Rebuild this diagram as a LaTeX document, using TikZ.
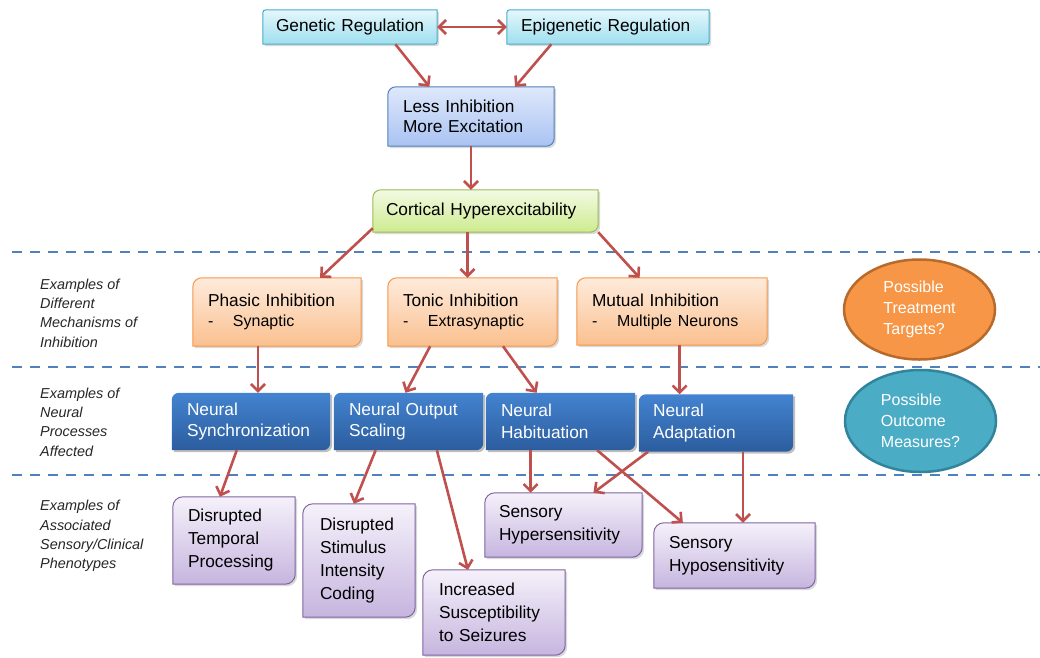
\documentclass[tikz,border=0pt]{standalone}
\usepackage{fontspec}
\setmainfont{Liberation Sans}
\usetikzlibrary{arrows.meta,calc,shapes.geometric}
\pgfdeclarelayer{bg}
\pgfsetlayers{bg,main}
\definecolor{arrowred}{HTML}{C0504D}
\definecolor{dashblue}{HTML}{4F81BD}
\definecolor{cyanT}{HTML}{E4F7FC}\definecolor{cyanB}{HTML}{9FDFEF}\definecolor{cyanD}{HTML}{4BACC6}
\definecolor{lessT}{HTML}{DFE8FB}\definecolor{lessB}{HTML}{A9C3F2}\definecolor{lessD}{HTML}{4F81BD}
\definecolor{grnT}{HTML}{F3FAE4}\definecolor{grnB}{HTML}{CDEB8E}\definecolor{grnD}{HTML}{9BBB59}
\definecolor{orT}{HTML}{FEEBDC}\definecolor{orB}{HTML}{FAC08F}\definecolor{orD}{HTML}{F79646}
\definecolor{neuT}{HTML}{4383D0}\definecolor{neuB}{HTML}{2C5D9E}
\definecolor{puT}{HTML}{F5F1FA}\definecolor{puB}{HTML}{C6B5DF}\definecolor{puD}{HTML}{8064A2}
\definecolor{treatF}{HTML}{F79646}\definecolor{treatD}{HTML}{B66A2C}
\definecolor{outF}{HTML}{4BACC6}\definecolor{outD}{HTML}{31849B}
\definecolor{labgray}{HTML}{262626}

\hyphenpenalty=10000
\exhyphenpenalty=10000

% background shape with rounded top-left and bottom-right corners
\newcommand\shbox[4]{%
 \begin{pgfonlayer}{bg}
 \fill[black,opacity=#4] ([shift={(2pt,-2pt-#2)}]#1.north west) arc[start angle=180,end angle=90,radius=#2]
   -- ([shift={(2pt,-2pt)}]#1.north east) -- ([shift={(2pt,-2pt+#2)}]#1.south east)
   arc[start angle=0,end angle=-90,radius=#2] -- ([shift={(2pt,-2pt)}]#1.south west) -- cycle;
 \path[#3] ([yshift=-#2]#1.north west) arc[start angle=180,end angle=90,radius=#2]
   -- (#1.north east) -- ([yshift=#2]#1.south east)
   arc[start angle=0,end angle=-90,radius=#2] -- (#1.south west) -- cycle;
 \end{pgfonlayer}}

\tikzset{
  x=1pt, y=-1pt,
  bx/.style={inner ysep=0pt, inner xsep=15pt, align=left, text=black,
     font=\fontsize{17.3}{22}\selectfont},
  cyanfill/.style={top color=cyanT, bottom color=cyanB, draw=cyanD, line width=1pt},
  lessfill/.style={top color=lessT, bottom color=lessB, draw=lessD, line width=1pt},
  grnfill/.style={top color=grnT, bottom color=grnB, draw=grnD, line width=1pt},
  orfill/.style={top color=orT, bottom color=orB, draw=orD, line width=1pt},
  neufill/.style={top color=neuT, bottom color=neuB},
  pufill/.style={top color=puT, bottom color=puB, draw=puD, line width=1pt},
  arr/.style={draw=arrowred, line width=2.6pt, -{Straight Barb[length=7pt,width=14pt]}},
  dbl/.style={draw=arrowred, line width=2.6pt, {Straight Barb[length=7pt,width=14pt]}-{Straight Barb[length=7pt,width=14pt]}},
  dashline/.style={draw=dashblue, line width=2.2pt, dash pattern=on 10pt off 8pt},
  lab/.style={anchor=west, align=left, inner sep=0pt, text=labgray,
     font=\fontsize{14.4}{19.3}\selectfont\itshape},
  ell/.style={ellipse, line width=2.5pt, minimum width=151pt, minimum height=100pt,
     align=left, text=white, inner sep=0pt, font=\fontsize{16}{21}\selectfont},
}

\newcommand\sub[1]{\\[-2pt]{\fontsize{16}{20}\selectfont\makebox[25pt][l]{-}#1}}

\begin{document}
\begin{tikzpicture}
\useasboundingbox (0,0) rectangle (1040,657);

% dashed separators
\draw[dashline] (12,252) -- (1040,252);
\draw[dashline] (12,367) -- (1040,367);
\draw[dashline] (12,475) -- (1040,475);

% row labels
\node[lab] (l1) at (40,313) {Examples of\\Different\\Mechanisms of\\Inhibition};
\node[lab] (l2) at (40,422) {Examples of\\Neural\\Processes\\Affected};
\node[lab] (l3) at (40,536) {Examples of\\Associated\\Sensory/Clinical\\Phenotypes};

% top boxes
\node[bx, inner xsep=13pt, text width=148pt, minimum height=34pt] (gen) at (350,27) {\mbox{Genetic Regulation}};
\node[bx, inner xsep=14pt, text width=174pt, minimum height=34pt] (epi) at (608,27) {\mbox{Epigenetic Regulation}};
\node[bx, text width=136pt, minimum height=59pt, font=\fontsize{17.3}{20.5}\selectfont] (less) at (471,116.5) {Less~Inhibition\\More~Excitation};
\node[bx, inner xsep=13pt, text width=199pt, minimum height=42pt] (cort) at (485.5,211) {Cortical~Hyperexcitability};
\shbox{gen}{3pt}{cyanfill}{0.15}
\shbox{epi}{3pt}{cyanfill}{0.15}
\shbox{less}{8pt}{lessfill}{0.15}
\shbox{cort}{8pt}{grnfill}{0.15}

% inhibition mechanisms
\node[bx, text width=138pt, minimum height=68pt] (pha) at (277,312) {Phasic~Inhibition\sub{Synaptic}};
\node[bx, text width=139pt, minimum height=68pt] (ton) at (472.5,312) {Tonic~Inhibition\sub{Extrasynaptic}};
\node[bx, text width=160pt, minimum height=67pt] (mut) at (672,311.5) {Mutual~Inhibition\sub{Multiple~Neurons}};
\shbox{pha}{9pt}{orfill}{0.15}
\shbox{ton}{9pt}{orfill}{0.15}
\shbox{mut}{9pt}{orfill}{0.15}

% neural processes
\tikzset{nb/.style={bx, text=white, minimum height=57pt, font=\fontsize{17.3}{21.5}\selectfont}}
\node[nb, text width=128pt] (syn) at (251,421.5) {Neural\\Synchronization};
\node[nb, text width=119pt] (outs) at (408.5,421.5) {Neural~Output\\Scaling};
\node[nb, text width=119pt] (hab) at (560.5,421.5) {Neural\\Habituation};
\node[nb, inner xsep=14pt, text width=126pt] (ada) at (716,423) {Neural\\Adaptation};
\shbox{syn}{7pt}{neufill}{0.25}
\shbox{outs}{7pt}{neufill}{0.25}
\shbox{hab}{7pt}{neufill}{0.25}
\shbox{ada}{7pt}{neufill}{0.25}

% phenotypes
\tikzset{pb/.style={bx, font=\fontsize{17.3}{23}\selectfont}}
\node[pb, text width=92pt, minimum height=87pt] (tem) at (234,540.5) {Disrupted\\Temporal\\Processing};
\node[pb, inner xsep=17pt, text width=78pt, minimum height=113pt] (sti) at (359,560.5) {Disrupted\\Stimulus\\Intensity\\Coding};
\node[pb, inner xsep=16pt, text width=110pt, minimum height=85pt] (inc) at (494,612.5) {Increased\\Susceptibility\\to~Seizures};
\node[pb, inner xsep=14pt, text width=129pt, minimum height=64pt] (hyper) at (563.5,525) {Sensory\\Hypersensitivity};
\node[pb, text width=131pt, minimum height=65pt] (hypo) at (734.5,555.5) {Sensory\\Hyposensitivity};
\shbox{tem}{10pt}{pufill}{0.15}
\shbox{sti}{10pt}{pufill}{0.15}
\shbox{inc}{10pt}{pufill}{0.15}
\shbox{hyper}{10pt}{pufill}{0.15}
\shbox{hypo}{10pt}{pufill}{0.15}

% ellipses
\node[ell, fill=treatF, draw=treatD] (treat) at (919.5,309.5) {Possible\\Treatment\\Targets?};
\node[ell, fill=outF, draw=outD, minimum height=102pt] (outc) at (920.5,421) {Possible\\Outcome\\Measures?};

% connectors
\draw[dbl] (gen.east) -- (epi.west);
\draw[arr] ($(gen.south west)!0.76!(gen.south east)$) -- ($(less.north west)!0.25!(less.north east)$);
\draw[arr] ($(epi.south west)!0.22!(epi.south east)$) -- ($(less.north west)!0.765!(less.north east)$);
\draw[arr] (less.south) -- (less.south |- cort.north);

\draw[arr] ([yshift=4pt]cort.south west) -- ($(pha.north west)!0.756!(pha.north east)$);
\coordinate (c1) at ($(cort.south west)!0.42!(cort.south east)$);
\draw[arr] (c1) -- (c1 |- ton.north);
\draw[arr] (cort.south east) -- ($(mut.north west)!0.33!(mut.north east)$);

\coordinate (c2) at ($(pha.south west)!0.387!(pha.south east)$);
\draw[arr] (c2) -- (c2 |- syn.north);
\draw[arr] ($(ton.south west)!0.25!(ton.south east)$) -- ($(outs.north west)!0.48!(outs.north east)$);
\draw[arr] ($(ton.south west)!0.68!(ton.south east)$) -- ($(hab.north west)!0.34!(hab.north east)$);
\coordinate (c3) at ($(mut.south west)!0.54!(mut.south east)$);
\draw[arr] (c3) -- (c3 |- ada.north);

\draw[arr] ($(syn.south west)!0.41!(syn.south east)$) -- ($(tem.north west)!0.385!(tem.north east)$);
\draw[arr] ($(outs.south west)!0.28!(outs.south east)$) -- ($(sti.north west)!0.455!(sti.north east)$);
\draw[arr] ($(outs.south west)!0.69!(outs.south east)$) -- ($(inc.north west)!0.317!(inc.north east)$);
\coordinate (c4) at ($(hab.south west)!0.30!(hab.south east)$);
\draw[arr] (c4) -- (c4 |- hyper.north);
\draw[arr] ($(hab.south west)!0.745!(hab.south east)$) -- ($(hypo.north west)!0.18!(hypo.north east)$);
\draw[arr] ($(ada.south west)!0.06!(ada.south east)$) -- ($(hyper.north west)!0.69!(hyper.north east)$);
\coordinate (c5) at ($(ada.south west)!0.675!(ada.south east)$);
\draw[arr] (c5) -- (c5 |- hypo.north);
\end{tikzpicture}
\end{document}
